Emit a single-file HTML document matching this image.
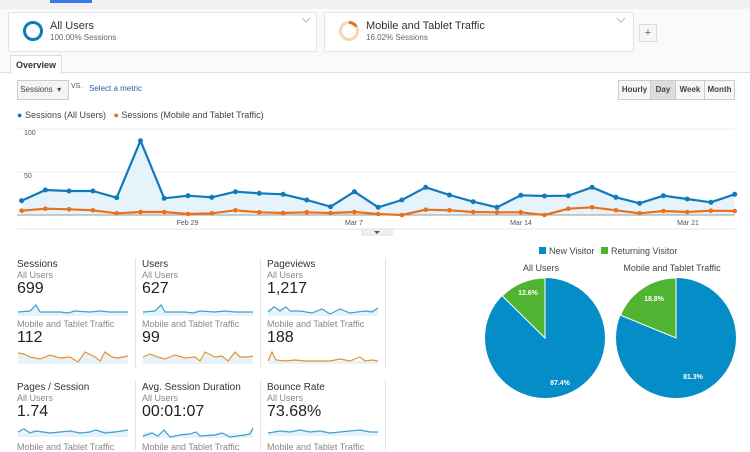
<!DOCTYPE html>
<html><head><meta charset="utf-8"><style>
body{margin:0;width:750px;height:450px;overflow:hidden;background:#fff;font-family:"Liberation Sans",Arial,sans-serif;position:relative;color:#333}
.a{position:absolute}
.card{position:absolute;background:#fff;border:1px solid #e3e3e3;border-radius:2px}
.t{font-size:10px;color:#333}
.g{font-size:9px;color:#888}
.n{font-size:16px;color:#222}
.btn{position:absolute;top:80px;height:18px;border:1px solid #ccc;background:#f6f6f6;font-size:8px;font-weight:bold;line-height:18px;text-align:center;color:#444}
</style></head><body>
<div class="a" style="left:0;top:0;width:750px;height:9px;background:#f1f1f1"></div>
<div class="a" style="left:0;top:9px;width:750px;height:64px;background:#fafafa"></div>
<div class="a" style="left:50px;top:0;width:42px;height:3px;background:#3b78e7"></div>
<div class="card" style="left:8px;top:12px;width:307px;height:38px"></div>
<div class="card" style="left:324px;top:12px;width:308px;height:38px"></div>
<svg class="a" style="left:0;top:0" width="750" height="73">
<circle cx="33" cy="31" r="8.5" fill="none" stroke="#0f7bbd" stroke-width="3"/>
<circle cx="349" cy="31" r="8.5" fill="none" stroke="#f7d6b3" stroke-width="3"/>
<path d="M349 22.5 A8.5 8.5 0 0 1 356.3 26.6" fill="none" stroke="#e8711a" stroke-width="3"/>
<path d="M302 18 l4 4 l4 -4 M617 18 l4 4 l4 -4" fill="none" stroke="#bbb"/>
</svg>
<div class="a" style="left:50px;top:20px;font-size:11px">All Users</div>
<div class="a" style="left:50px;top:33px;font-size:8px;color:#666">100.00% Sessions</div>
<div class="a" style="left:366px;top:20px;font-size:11px">Mobile and Tablet Traffic</div>
<div class="a" style="left:366px;top:33px;font-size:8px;color:#666">16.02% Sessions</div>
<div class="a" style="left:639px;top:24px;width:16px;height:16px;border:1px solid #ddd;background:#f6f6f6;font-size:11px;text-align:center;line-height:16px;color:#666">+</div>
<div class="a" style="left:0;top:72px;width:750px;height:1px;background:#ddd"></div>
<div class="a" style="left:10px;top:55px;width:50px;height:18px;background:#fff;border:1px solid #ddd;border-bottom:none;font-size:9px;font-weight:bold;line-height:18px;text-align:center">Overview</div>
<div class="a" style="left:17px;top:80px;width:50px;height:18px;border:1px solid #ccc;background:#f4f4f4;font-size:8px;line-height:18px;color:#444">&nbsp;Sessions &nbsp;▾</div>
<div class="a" style="left:71px;top:83px;font-size:7px;color:#555">VS.</div>
<div class="a" style="left:89px;top:84px;font-size:8px;color:#2a62a6">Select a metric</div>
<div class="btn" style="left:618px;width:31px">Hourly</div>
<div class="btn" style="left:650px;width:24px;background:#ddd">Day</div>
<div class="btn" style="left:675px;width:28px">Week</div>
<div class="btn" style="left:704px;width:29px">Month</div>
<div class="a" style="left:17px;top:110px;font-size:9px;color:#444"><span style="color:#0f7bbd">●</span> Sessions (All Users) &nbsp; <span style="color:#e8711a">●</span> Sessions (Mobile and Tablet Traffic)</div>
<svg class="a" style="left:0;top:120px" width="750" height="120" viewBox="0 120 750 120">
<line x1="17" y1="129" x2="735" y2="129" stroke="#eee"/>
<line x1="17" y1="172" x2="735" y2="172" stroke="#eee"/>
<text x="24" y="135" font-size="7" fill="#555">100</text>
<text x="24" y="178" font-size="7" fill="#555">50</text>
<polygon fill="#e6f3fa" points="21.6,215 21.6,200.7 45.4,190 69.1,191 92.9,191 116.7,197.7 140.5,140.7 164.2,198.3 188,195.7 211.8,197.3 235.5,191.7 259.3,193.3 283.1,194.3 306.8,200 330.6,206.7 354.4,191.7 378.2,207.3 401.9,200 425.7,187.3 449.5,195 473.2,201.7 497,207.3 520.8,195.3 544.5,196 568.3,195.7 592.1,187.3 615.9,197.3 639.6,203.3 663.4,195.7 687.2,199 710.9,202.3 734.7,194.3 734.7,215"/>
<line x1="17" y1="215" x2="735" y2="215" stroke="#999"/>
<g fill="none" stroke-width="2.2" stroke-linejoin="round">
<polyline stroke="#0f7bbd" points="21.6,200.7 45.4,190 69.1,191 92.9,191 116.7,197.7 140.5,140.7 164.2,198.3 188,195.7 211.8,197.3 235.5,191.7 259.3,193.3 283.1,194.3 306.8,200 330.6,206.7 354.4,191.7 378.2,207.3 401.9,200 425.7,187.3 449.5,195 473.2,201.7 497,207.3 520.8,195.3 544.5,196 568.3,195.7 592.1,187.3 615.9,197.3 639.6,203.3 663.4,195.7 687.2,199 710.9,202.3 734.7,194.3"/>
<polyline stroke="#e8711a" points="21.6,210.7 45.4,208.7 69.1,209.3 92.9,210.3 116.7,213.3 140.5,212 164.2,212 188,214 211.8,213.3 235.5,210.3 259.3,212.3 283.1,213 306.8,212.3 330.6,213 354.4,212 378.2,214 401.9,215 425.7,209.7 449.5,210.3 473.2,212 497,212.3 520.8,212.3 544.5,215 568.3,208.7 592.1,207.3 615.9,210.3 639.6,213.3 663.4,211 687.2,212 710.9,210.7 734.7,211"/>
</g>
<g fill="#0f7bbd"><circle cx="21.6" cy="200.7" r="2.5"/><circle cx="45.4" cy="190" r="2.5"/><circle cx="69.1" cy="191" r="2.5"/><circle cx="92.9" cy="191" r="2.5"/><circle cx="116.7" cy="197.7" r="2.5"/><circle cx="140.5" cy="140.7" r="2.5"/><circle cx="164.2" cy="198.3" r="2.5"/><circle cx="188" cy="195.7" r="2.5"/><circle cx="211.8" cy="197.3" r="2.5"/><circle cx="235.5" cy="191.7" r="2.5"/><circle cx="259.3" cy="193.3" r="2.5"/><circle cx="283.1" cy="194.3" r="2.5"/><circle cx="306.8" cy="200" r="2.5"/><circle cx="330.6" cy="206.7" r="2.5"/><circle cx="354.4" cy="191.7" r="2.5"/><circle cx="378.2" cy="207.3" r="2.5"/><circle cx="401.9" cy="200" r="2.5"/><circle cx="425.7" cy="187.3" r="2.5"/><circle cx="449.5" cy="195" r="2.5"/><circle cx="473.2" cy="201.7" r="2.5"/><circle cx="497" cy="207.3" r="2.5"/><circle cx="520.8" cy="195.3" r="2.5"/><circle cx="544.5" cy="196" r="2.5"/><circle cx="568.3" cy="195.7" r="2.5"/><circle cx="592.1" cy="187.3" r="2.5"/><circle cx="615.9" cy="197.3" r="2.5"/><circle cx="639.6" cy="203.3" r="2.5"/><circle cx="663.4" cy="195.7" r="2.5"/><circle cx="687.2" cy="199" r="2.5"/><circle cx="710.9" cy="202.3" r="2.5"/><circle cx="734.7" cy="194.3" r="2.5"/></g>
<g fill="#e8711a"><circle cx="21.6" cy="210.7" r="2.3"/><circle cx="45.4" cy="208.7" r="2.3"/><circle cx="69.1" cy="209.3" r="2.3"/><circle cx="92.9" cy="210.3" r="2.3"/><circle cx="116.7" cy="213.3" r="2.3"/><circle cx="140.5" cy="212" r="2.3"/><circle cx="164.2" cy="212" r="2.3"/><circle cx="188" cy="214" r="2.3"/><circle cx="211.8" cy="213.3" r="2.3"/><circle cx="235.5" cy="210.3" r="2.3"/><circle cx="259.3" cy="212.3" r="2.3"/><circle cx="283.1" cy="213" r="2.3"/><circle cx="306.8" cy="212.3" r="2.3"/><circle cx="330.6" cy="213" r="2.3"/><circle cx="354.4" cy="212" r="2.3"/><circle cx="378.2" cy="214" r="2.3"/><circle cx="401.9" cy="215" r="2.3"/><circle cx="425.7" cy="209.7" r="2.3"/><circle cx="449.5" cy="210.3" r="2.3"/><circle cx="473.2" cy="212" r="2.3"/><circle cx="497" cy="212.3" r="2.3"/><circle cx="520.8" cy="212.3" r="2.3"/><circle cx="544.5" cy="215" r="2.3"/><circle cx="568.3" cy="208.7" r="2.3"/><circle cx="592.1" cy="207.3" r="2.3"/><circle cx="615.9" cy="210.3" r="2.3"/><circle cx="639.6" cy="213.3" r="2.3"/><circle cx="663.4" cy="211" r="2.3"/><circle cx="687.2" cy="212" r="2.3"/><circle cx="710.9" cy="210.7" r="2.3"/><circle cx="734.7" cy="211" r="2.3"/></g>
<text font-size="7" fill="#555" text-anchor="middle"><tspan x="187.5" y="225">Feb 29</tspan><tspan x="354" y="225">Mar 7</tspan><tspan x="521" y="225">Mar 14</tspan><tspan x="688" y="225">Mar 21</tspan></text>
<line x1="17" y1="229" x2="735" y2="229" stroke="#e5e5e5"/>
<rect x="362" y="229" width="30" height="6" fill="#f0f0f0" stroke="#ddd"/>
<path d="M374 231 h6 l-3 3z" fill="#555"/>
</svg>
<div class="a" style="left:135px;top:258px;width:1px;height:110px;background:#e5e5e5"></div>
<div class="a" style="left:260px;top:258px;width:1px;height:110px;background:#e5e5e5"></div>
<div class="a" style="left:385px;top:258px;width:1px;height:110px;background:#e5e5e5"></div>
<div class="a" style="left:135px;top:380px;width:1px;height:70px;background:#e5e5e5"></div>
<div class="a" style="left:260px;top:380px;width:1px;height:70px;background:#e5e5e5"></div>
<div class="a" style="left:385px;top:380px;width:1px;height:70px;background:#e5e5e5"></div>

<div class="a" style="left:17px;top:259px"><div class="t">Sessions</div><div class="g">All Users</div><div class="n">699</div></div>
<div class="a" style="left:17px;top:319px"><div class="g">Mobile and Tablet Traffic</div><div class="n">112</div></div>
<div class="a" style="left:142px;top:259px"><div class="t">Users</div><div class="g">All Users</div><div class="n">627</div></div>
<div class="a" style="left:142px;top:319px"><div class="g">Mobile and Tablet Traffic</div><div class="n">99</div></div>
<div class="a" style="left:267px;top:259px"><div class="t">Pageviews</div><div class="g">All Users</div><div class="n">1,217</div></div>
<div class="a" style="left:267px;top:319px"><div class="g">Mobile and Tablet Traffic</div><div class="n">188</div></div>
<div class="a" style="left:17px;top:382px"><div class="t">Pages / Session</div><div class="g">All Users</div><div class="n">1.74</div></div>
<div class="a" style="left:142px;top:382px"><div class="t">Avg. Session Duration</div><div class="g">All Users</div><div class="n">00:01:07</div></div>
<div class="a" style="left:267px;top:382px"><div class="t">Bounce Rate</div><div class="g">All Users</div><div class="n">73.68%</div></div>
<div class="a g" style="left:17px;top:442px">Mobile and Tablet Traffic</div>
<div class="a g" style="left:142px;top:442px">Mobile and Tablet Traffic</div>
<div class="a g" style="left:267px;top:442px">Mobile and Tablet Traffic</div>

<svg class="a" style="left:0;top:0" width="750" height="450">
<g fill="#e6f3fa" stroke="none">
<polygon points="18,316 18,312 30,311 36,305 40,312 128,312 128,316"/>
<polygon points="143,316 143,312 155,311 161,305 165,312 253,312 253,316"/>
<polygon points="268,316 268,307 274,311 280,307 286,311 300,311 312,313 322,309 330,314 340,309 350,313 365,311 378,308 378,316"/>
<polygon points="18,364 18,353 30,357 40,359 50,355 60,358 70,357 78,362 85,352 95,357 100,361 105,352 112,357 118,358 128,356 128,364"/>
<polygon points="143,364 143,357 150,354 158,357 165,359 175,355 185,358 195,357 200,361 205,352 215,357 222,356 228,361 235,352 240,357 248,357 253,356 253,364"/>
<polygon points="268,364 268,361 272,352 276,360 378,361 378,364"/>
<polygon points="18,437 18,430 25,433 33,430 50,432 70,431 90,433 105,430 120,432 128,429 128,437"/>
<polygon points="143,438 143,433 152,431 158,436 164,430 170,436 190,434 200,435 222,433 245,434 253,428 253,438"/>
<polygon points="268,436 268,433 280,432 300,431 320,432 340,433 360,431 378,432 378,436"/>
</g>
<g fill="none" stroke="#3d9fd3" stroke-width="1.2">
<polyline points="18,312 30,311 36,305 40,312 60,312 68,313 75,311 90,312 100,311 110,312 128,312"/>
<polyline points="143,312 155,311 161,305 165,312 185,312 193,313 200,311 215,312 225,311 235,312 253,312"/>
<polyline points="268,312 274,307 280,311 286,307 290,311 300,311 312,313 322,309 330,314 340,309 350,313 365,311 372,312 378,308"/>
<polyline points="18,432 24,429 30,433 36,431 50,433 60,432 70,431 80,433 90,432 96,430 105,433 115,432 128,430"/>
<polyline points="143,436 152,433 158,436 164,430 170,437 180,435 190,434 196,432 200,436 215,435 222,433 230,437 245,435 250,434 253,428"/>
<polyline points="268,433 280,431 290,432 300,430 310,432 320,431 330,433 340,432 350,431 360,430 370,432 378,432"/>
</g>
<g fill="none" stroke="#e8912f" stroke-width="1.2">
<polyline points="18,353 24,354 30,357 40,359 50,355 60,358 70,357 78,362 85,352 95,357 100,361 105,352 112,357 118,358 128,356"/>
<polyline points="143,357 150,354 158,357 165,359 175,355 185,358 195,357 200,361 205,352 215,357 222,356 228,361 235,352 240,357 248,357 253,356"/>
<polyline points="268,361 272,352 276,360 285,361 295,360 305,361 315,361 330,361 340,359 350,361 360,357 365,361 372,360 378,361"/>
</g>
<rect x="539" y="247" width="7" height="7" fill="#058dc7"/>
<text x="549" y="254" font-size="9" fill="#444">New Visitor</text>
<rect x="601" y="247" width="7" height="7" fill="#50b432"/>
<text x="611" y="254" font-size="9" fill="#444">Returning Visitor</text>
<text x="541" y="271" font-size="9" fill="#444" text-anchor="middle">All Users</text>
<text x="672" y="271" font-size="9" fill="#444" text-anchor="middle">Mobile and Tablet Traffic</text>
<circle cx="545" cy="338" r="60" fill="#058dc7"/>
<path d="M545 338 L545 278 A60 60 0 0 0 502.3 295.9 Z" fill="#50b432" stroke="#fff" stroke-width="1"/>
<circle cx="676" cy="338" r="60" fill="#058dc7"/>
<path d="M676 338 L676 278 A60 60 0 0 0 620.5 315.2 Z" fill="#50b432" stroke="#fff" stroke-width="1"/>
<g font-size="7" font-weight="bold" fill="#fff" text-anchor="middle">
<text x="528" y="295">12.6%</text><text x="560" y="385">87.4%</text>
<text x="654" y="301">18.8%</text><text x="693" y="379">81.3%</text></g>
</svg>
</body></html>
